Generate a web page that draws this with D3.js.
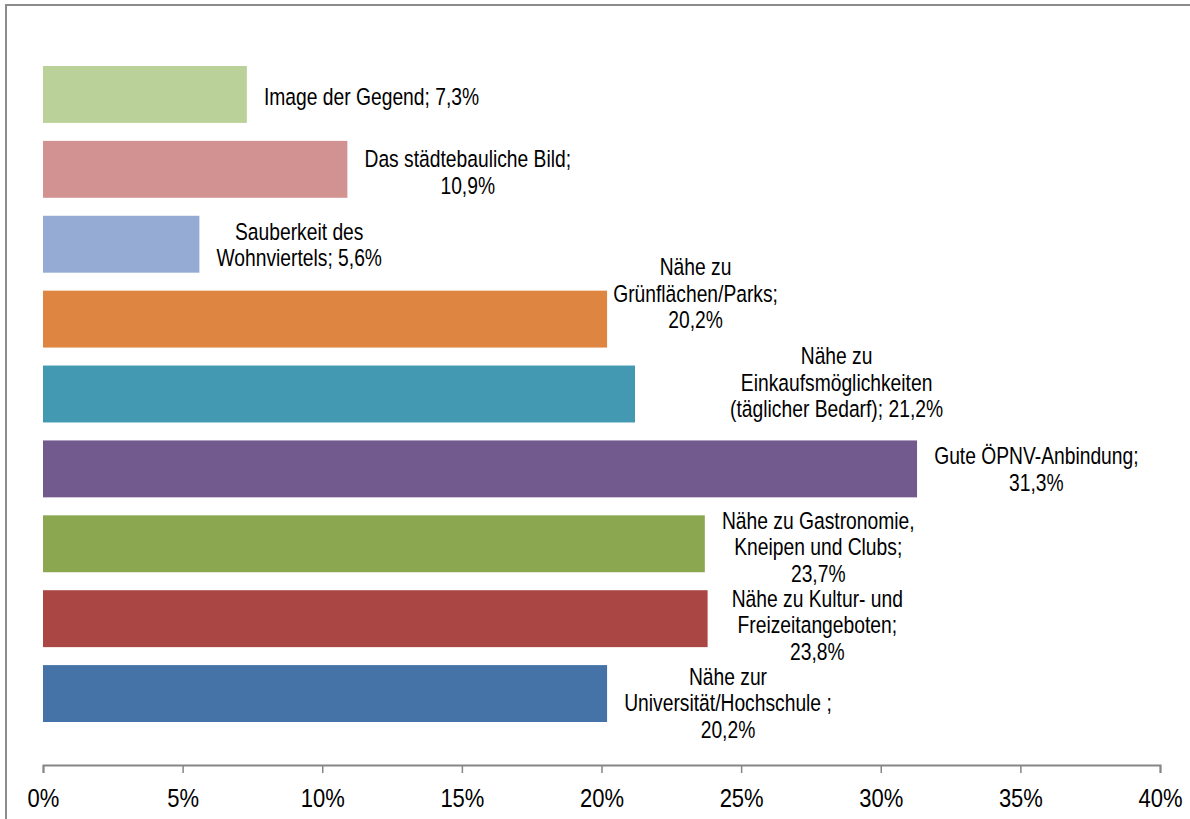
<!DOCTYPE html>
<html>
<head>
<style type="text/css">
  body { margin: 0; background: #fff; }
  .label { font-family: "Liberation Sans", Arial, sans-serif; font-size: 23.5px; fill: #000; }
  .tick text { font-family: "Liberation Sans", Arial, sans-serif; font-size: 25px; fill: #000; }
</style>
</head>
<body>
<svg></svg>
<script src="https://d3js.org/d3.v7.min.js"></script>
<script>
var width = 1190;
var height = 819;

// data, top to bottom as drawn
var categories = [
  ["Image der Gegend; 7,3%"],
  ["Das städtebauliche Bild;", "10,9%"],
  ["Sauberkeit des", "Wohnviertels; 5,6%"],
  ["Nähe zu", "Grünflächen/Parks;", "20,2%"],
  ["Nähe zu", "Einkaufsmöglichkeiten", "(täglicher Bedarf); 21,2%"],
  ["Gute ÖPNV-Anbindung;", "31,3%"],
  ["Nähe zu Gastronomie,", "Kneipen und Clubs;", "23,7%"],
  ["Nähe zu Kultur- und", "Freizeitangeboten;", "23,8%"],
  ["Nähe zur", "Universität/Hochschule ;", "20,2%"]
];
var values = [7.3, 10.9, 5.6, 20.2, 21.2, 31.3, 23.7, 23.8, 20.2];
var colors = ["#bbd19a", "#d29291", "#95abd3", "#dd8541", "#4299b1", "#725a8e", "#8ba750", "#aa4644", "#4573a8"];
var ticks = [0, 5, 10, 15, 20, 25, 30, 35, 40];

// hand-moved data labels (layout only)
var labelDx = [0, 0, 0, -11, 78, 0, 0, 7, 0];
var labelDy = [2.5, 3.5, 1, -25, -11, 1, 4, 7, 10];
// text in the reference is horizontally squeezed
var squeeze = 0.82;

var svg = d3.select('svg')
  .attr('width', width)
  .attr('height', height);

// chart frame (top/left edges visible)
svg.append('path')
  .attr('d', 'M6,' + height + 'V5H' + width)
  .attr('fill', 'none')
  .attr('stroke', '#8c8c8c')
  .attr('stroke-width', 2);

var x = d3.scaleLinear().domain([0, 40]).range([43, 1160]);
var y = d3.scaleBand()
  .domain(d3.range(values.length))
  .range([57, 731])
  .paddingInner(0.24)
  .paddingOuter(0.12);

var axisY = 765;
var axis = d3.axisBottom(x)
  .tickValues(ticks)
  .tickSize(8)
  .tickPadding(16)
  .tickFormat(function(d) { return d + '%'; });
var ax = svg.append('g')
  .attr('transform', 'translate(0,' + axisY + ')')
  .call(axis);
ax.select('.domain').attr('stroke', '#868686').attr('stroke-width', 2);
ax.selectAll('.tick line').attr('stroke', '#868686').attr('stroke-width', 1.5);
ax.selectAll('.tick text').attr('transform', 'scale(0.88,1)');

svg.append('g').selectAll('rect')
  .data(values)
  .enter()
  .append('rect')
  .attr('x', x(0))
  .attr('y', function(d, i) { return y(i); })
  .attr('width', function(d) { return x(d) - x(0); })
  .attr('height', y.bandwidth())
  .attr('fill', function(d, i) { return colors[i]; });

var lineH = 26.5;
var labels = svg.append('g').selectAll('g')
  .data(categories)
  .enter()
  .append('g');

labels.each(function(lines, i) {
  var g = d3.select(this);
  var t = g.append('text')
    .attr('class', 'label')
    .attr('text-anchor', 'middle');
  lines.forEach(function(s, k) {
    t.append('tspan')
      .attr('x', 0)
      .attr('dominant-baseline', 'central')
      .attr('y', (k - (lines.length - 1) / 2) * lineH)
      .text(s);
  });
  var w = 0;
  t.selectAll('tspan').each(function() { w = Math.max(w, this.getComputedTextLength()); });
  var cx = x(values[i]) + 17 + labelDx[i] + w * squeeze / 2;
  var cy = y(i) + y.bandwidth() / 2 + labelDy[i];
  g.attr('transform', 'translate(' + cx + ',' + cy + ') scale(' + squeeze + ',1)');
});
</script>
</body>
</html>
